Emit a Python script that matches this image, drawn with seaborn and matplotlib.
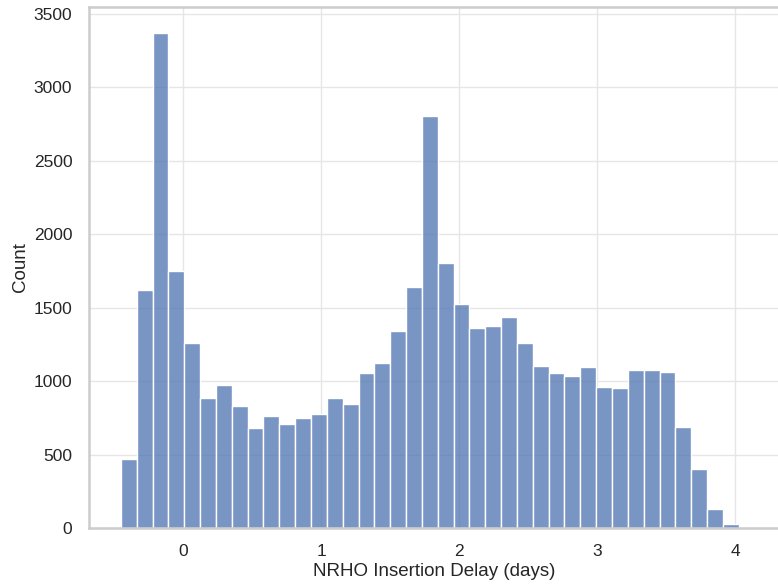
import numpy as np
import pandas as pd
import matplotlib
matplotlib.use("Agg")
import matplotlib.pyplot as plt
import seaborn as sns

# Histogram bin counts of NRHO insertion delay (days)
bin_start = -0.451
bin_width = 0.1148
counts = [468, 1621, 3373, 1750, 1262, 883, 972, 833, 683, 763,
          709, 749, 776, 883, 847, 1053, 1121, 1340, 1641, 2806,
          1802, 1525, 1360, 1376, 1437, 1258, 1103, 1053, 1037, 1094,
          960, 956, 1078, 1078, 1062, 686, 402, 129, 27]

edges = [bin_start + bin_width * i for i in range(len(counts) + 1)]
centers = [(a + b) / 2 for a, b in zip(edges[:-1], edges[1:])]
df = pd.DataFrame({"delay": centers, "count": counts})

sns.set_theme(style="whitegrid", rc={"grid.color": "#e6e6e6",
                                     "axes.edgecolor": "#cccccc",
                                     "axes.linewidth": 1.8})
plt.rcParams["font.family"] = ["Liberation Sans", "DejaVu Sans"]

fig = plt.figure(figsize=(7.78, 5.84), dpi=100)
ax = fig.add_axes([89 / 778, 56 / 584, (780 - 89) / 778, 521 / 584])

sns.histplot(data=df, x="delay", weights="count", bins=edges, ax=ax)

ax.set_xlim(-0.682, 4.325)
ax.set_ylim(0, 3548)
ax.set_xticks([0, 1, 2, 3, 4])
ax.set_yticks(range(0, 3501, 500))
ax.set_xlabel("NRHO Insertion Delay (days)", fontsize=13.5, labelpad=3)
ax.set_ylabel("Count", fontsize=13.5, labelpad=3)
ax.tick_params(axis="x", labelsize=12.5, pad=5.5)
ax.tick_params(axis="y", labelsize=12.5, pad=6)

fig.savefig("out.png", dpi=100)
